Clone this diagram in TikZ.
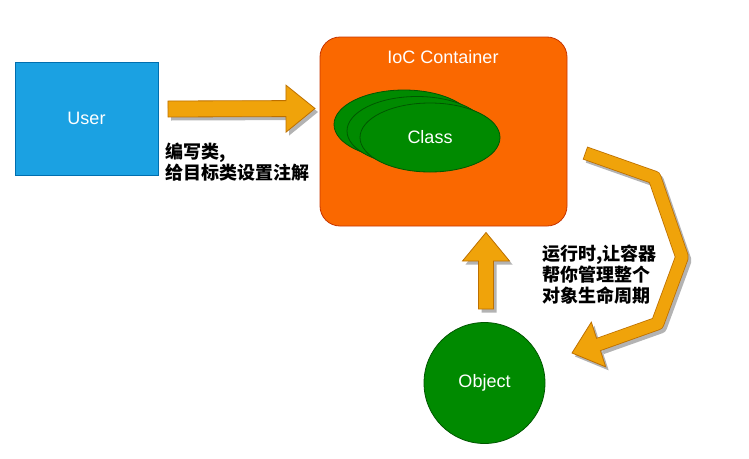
\documentclass[tikz,border=0pt]{standalone}
\usepackage{fontspec}
\setmainfont{Liberation Sans}
\newfontfamily\cjk{Noto Sans CJK SC}
\usetikzlibrary{shapes.geometric,calc}
\definecolor{userfill}{HTML}{1BA1E2}
\definecolor{userline}{HTML}{006EAF}
\definecolor{iocfill}{HTML}{FA6800}
\definecolor{iocline}{HTML}{C73500}
\definecolor{grfill}{HTML}{008A00}
\definecolor{grline}{HTML}{005700}
\definecolor{arfill}{HTML}{F0A30A}
\definecolor{arline}{HTML}{BD7000}
\definecolor{shadowcol}{HTML}{B3B3B3}
\tikzset{
  lbl/.style={text=white, font=\fontsize{18}{21}\selectfont, inner sep=0pt},
  userbox/.style={draw=userline, fill=userfill, line width=0.8pt, minimum width=143pt, minimum height=113pt, inner sep=0pt},
  iocbox/.style={draw=iocline, fill=iocfill, line width=0.8pt, rounded corners=20pt, minimum width=247pt, minimum height=189pt, inner sep=0pt},
  clsell/.style={ellipse, draw=grline, fill=grfill, line width=0.8pt, minimum width=140pt, minimum height=69pt, inner sep=0pt},
  objcirc/.style={circle, draw=grline, fill=grfill, line width=0.8pt, minimum size=121pt, inner sep=0pt},
  cjktext/.style={font=\cjk\bfseries\fontsize{18}{21}\selectfont, align=left, inner sep=0pt, text=black},
  blockar/.style={fill=arfill, draw=arline, line width=0.8pt, line join=miter},
  shadowar/.style={fill=shadowcol, draw=none},
}
\newcommand\blockarrow[6]{%
  \coordinate (ba-hb) at ($(#2)!#5!(#1)$);
  \path[#6] ($(#1)!#3!90:(#2)$) -- ($(ba-hb)!#3!90:(#2)$) -- ($(ba-hb)!#4!90:(#2)$) -- (#2)
    -- ($(ba-hb)!#4!-90:(#2)$) -- ($(ba-hb)!#3!-90:(#2)$) -- ($(#1)!#3!-90:(#2)$) -- cycle;
}
\begin{document}
\begin{tikzpicture}[x=1pt,y=-1pt]
\useasboundingbox (0,0) rectangle (749,458);
% nodes
\node[userbox, lbl] (user) at (86.5,118.5) {User};
\node[iocbox] (ioc) at (443.5,131.5) {};
\node[lbl] (ioctitle) at (443,57) {IoC Container};
\node[clsell] (c1) at (404,124.5) {};
\node[clsell] (c2) at (417,131) {};
\node[clsell, lbl] (c3) at (430,137.5) {Class};
\node[objcirc, lbl] (obj) at (484.5,383) {Object};
\node[cjktext, anchor=west] (t1) at (165,162) {编写类,\\给目标类设置注解};
\node[cjktext, anchor=west] (t2) at (542,275) {运行时,让容器\\帮你管理整个\\对象生命周期};
% arrow user -> container
\coordinate (a1s) at (168,109);
\coordinate (a1t) at (315,108.5);
\coordinate (a1ss) at ($(a1s)+(3,3.5)$);
\coordinate (a1ts) at ($(a1t)+(3,3.5)$);
\blockarrow{a1ss}{a1ts}{8pt}{23.5pt}{29pt}{shadowar}
\blockarrow{a1s}{a1t}{8pt}{23.5pt}{29pt}{blockar}
% arrow object -> container
\coordinate (a2s) at (486,309);
\coordinate (a2t) at (486,232.5);
\coordinate (a2ss) at ($(a2s)+(3,3.5)$);
\coordinate (a2ts) at ($(a2t)+(3,3.5)$);
\blockarrow{a2ss}{a2ts}{7.5pt}{23.5pt}{28.5pt}{shadowar}
\blockarrow{a2s}{a2t}{7.5pt}{23.5pt}{28.5pt}{blockar}
% bent arrow container -> object
\coordinate (r0) at (585,153);
\coordinate (r1) at (654.5,177.5);
\coordinate (r2) at (682,257);
\coordinate (r3) at (657.5,323.5);
\coordinate (rb) at (598.5,344.5);
\coordinate (rt) at (572,353);
\coordinate (rh1) at ($(rb)!23.5pt!90:(rt)$);
\coordinate (rh2) at ($(rb)!23.5pt!-90:(rt)$);
\foreach \p in {r0,r1,r2,r3,rb,rt,rh1,rh2} {\coordinate (\p s) at ($(\p)+(3,3.5)$);}
\draw[shadowcol, line width=13pt, line join=round] (r0s) -- (r1s) -- (r2s) -- (r3s) -- (rbs);
\fill[shadowcol] (rh1s) -- (rts) -- (rh2s) -- cycle;
\draw[arline, line width=13.6pt, line join=round] (r0) -- (r1) -- (r2) -- (r3) -- (rb);
\filldraw[fill=arfill, draw=arline, line width=0.8pt, line join=miter] (rh1) -- (rt) -- (rh2) -- cycle;
\draw[arfill, line width=12pt, line join=round, shorten <=0.8pt] (r0) -- (r1) -- (r2) -- (r3) -- ($(rb)!3pt!(rt)$);
\end{tikzpicture}
\end{document}
